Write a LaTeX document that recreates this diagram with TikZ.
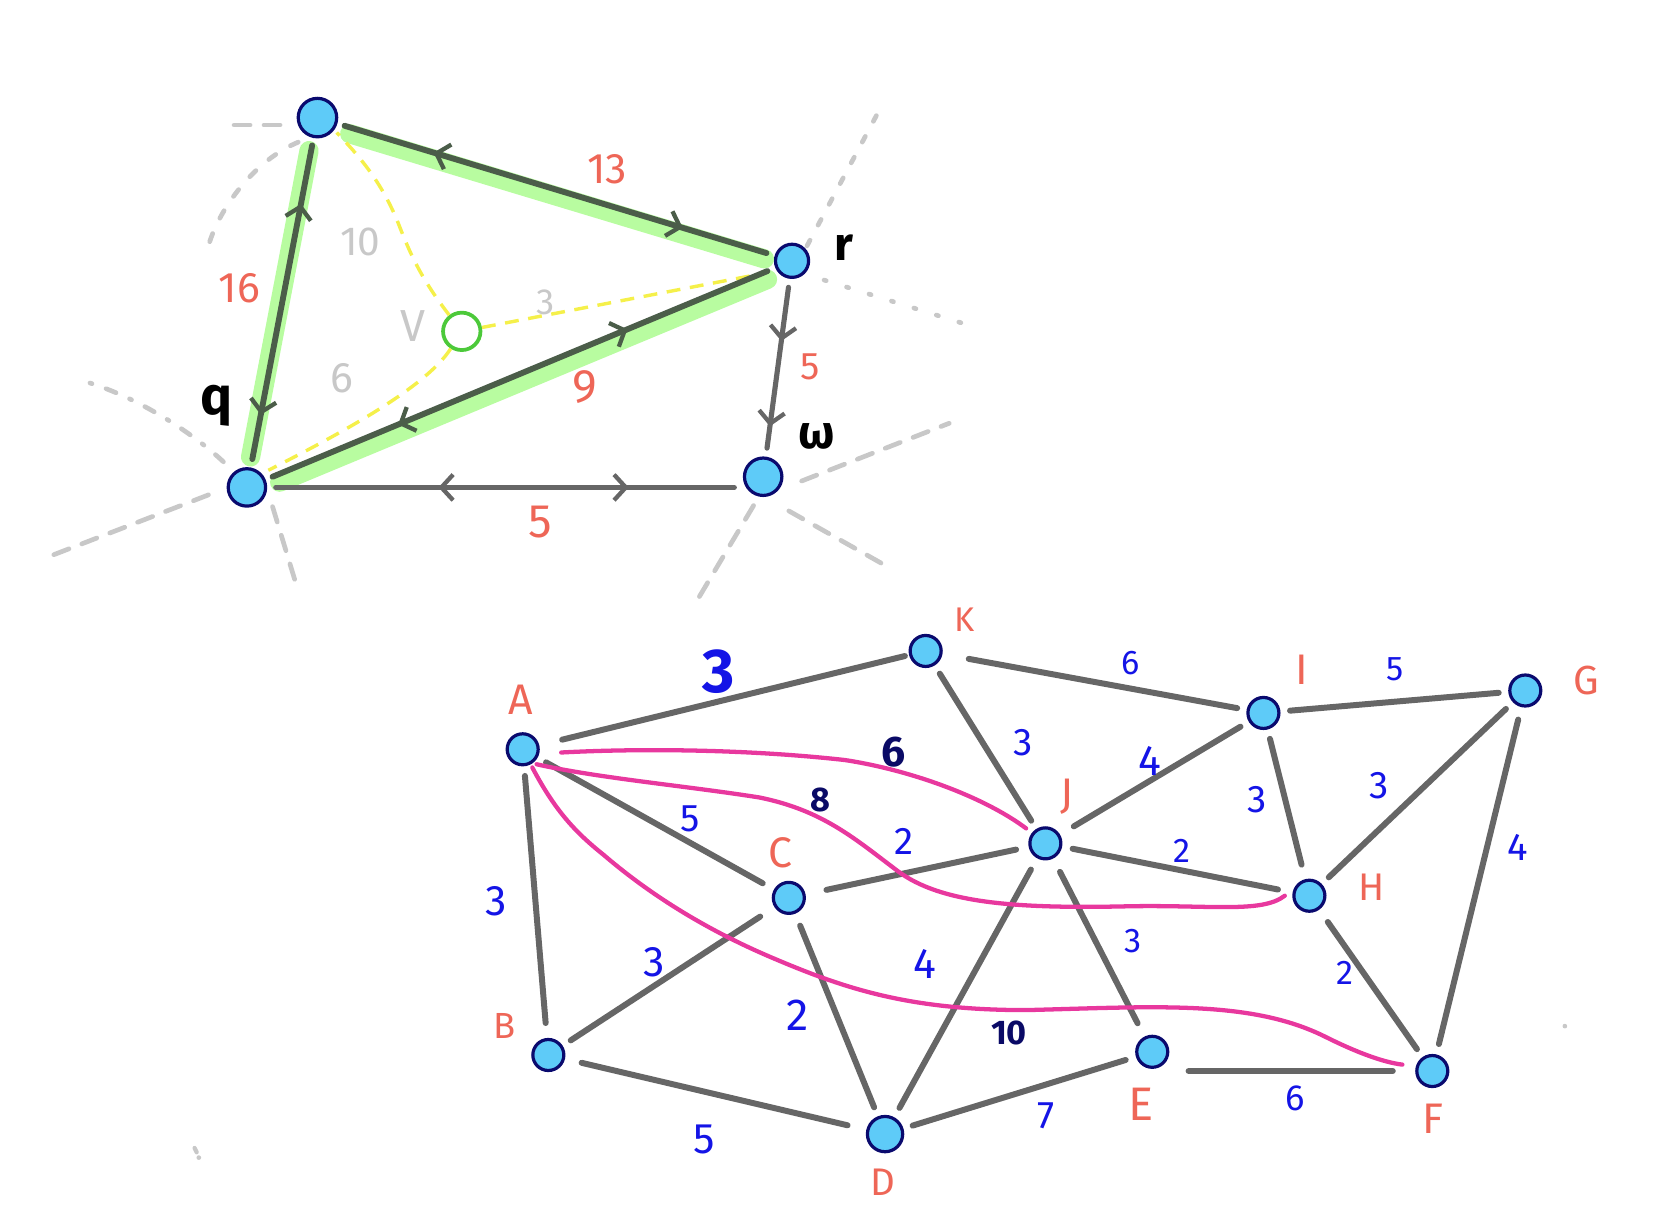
\documentclass[tikz,border=0pt]{standalone}
\usepackage{fontspec}
\setmainfont{Fira Sans}
\usetikzlibrary{arrows.meta,decorations.markings,calc}
\definecolor{nodefill}{HTML}{5ECBF8}
\definecolor{nodeline}{HTML}{0A0A6E}
\definecolor{edgegray}{HTML}{666666}
\definecolor{darkedge}{HTML}{4B5D49}
\definecolor{hlgreen}{HTML}{B8FCA0}
\definecolor{labred}{HTML}{EE6657}
\definecolor{labblue}{HTML}{1414E6}
\definecolor{labnavy}{HTML}{0A0A66}
\definecolor{pinkpath}{HTML}{E8389E}
\definecolor{ghost}{HTML}{C8C8C8}
\definecolor{yel}{HTML}{F5F04A}
\definecolor{vgreen}{HTML}{4CC93A}
\newcommand\fsz[1]{\fontsize{#1}{#1}\selectfont}
\begin{document}
\begin{tikzpicture}[x=1pt,y=-1pt,
  vert/.style={circle,draw=nodeline,fill=nodefill,line width=3pt,minimum size=#1,inner sep=0pt},
  vert/.default=29pt,
  topedge/.style={draw=darkedge,line width=5.5pt,line cap=round,shorten >=8pt,shorten <=7pt},
  grayedge/.style={draw=edgegray,line width=4.8pt,line cap=round,shorten >=8pt,shorten <=8pt},
  hl/.style={draw=hlgreen,line width=18pt,line cap=round,shorten >=10pt,shorten <=12pt},
  botedge/.style={draw=edgegray,line width=5.6pt,line cap=round,shorten >=9pt,shorten <=9pt},
  fwd/.style={postaction={decorate,decoration={markings,mark=at position #1 with {\arrow{Straight Barb[length=11pt,width=24pt,line width=4pt]}}}}},
  rev/.style={postaction={decorate,decoration={markings,mark=at position #1 with {\arrowreversed{Straight Barb[length=11pt,width=24pt,line width=4pt]}}}}},
  ydash/.style={draw=yel,line width=3.2pt,dash pattern=on 13pt off 9pt},
  gdash/.style={draw=ghost,line width=4.4pt,line cap=round,dash pattern=on 15pt off 13pt},
  gdot/.style={draw=ghost,line width=4.4pt,line cap=round,dash pattern=on 3pt off 17pt},
  pinkp/.style={draw=pinkpath,line width=4pt,line cap=round,line join=round},
  redlab/.style={text=labred,font=\fsz{40}},
  bluelab/.style={text=labblue,font=\fsz{36}},
  navylab/.style={text=labnavy,font=\fsz{36}},
  greylab/.style={text=ghost,font=\fsz{38}},
  blacklab/.style={text=black,font=\fsz{44}\bfseries}
]
\useasboundingbox (0,0) rectangle (1568,1149);

% ---------- top graph nodes ----------
\node[vert=36pt] (P) at (297,110) {};
\node[vert=31pt] (R) at (741,244) {};
\node[vert=35pt] (Q) at (231,456) {};
\node[vert=35pt] (W) at (714,446) {};
\node[circle,draw=vgreen,fill=white,line width=3.5pt,minimum size=35pt,inner sep=0pt] (V) at (432,310) {};

% ghost rays
\coordinate (g1) at (213,117);
\coordinate (g2) at (195,230);
\coordinate (g3) at (80,357);
\coordinate (g4) at (45,521);
\coordinate (g5) at (279,553);
\coordinate (g6) at (820,108);
\coordinate (g7) at (912,306);
\coordinate (g8) at (888,396);
\coordinate (g9) at (830,530);
\coordinate (g10) at (652,562);
\draw[gdash] ([shift={(-35,7)}]P.center) -- (g1);
\draw[gdot,dash pattern=on 8pt off 16pt] ([shift={(-18,23)}]P.center) .. controls (238,150) and (205,195) .. (g2);
\draw[gdot,dash pattern=on 10pt off 14pt on 2pt off 14pt] ([shift={(-22,-24)}]Q.center) .. controls (180,405) and (130,372) .. (g3);
\draw[gdash] ([shift={(-36,7)}]Q.center) -- (g4);
\draw[gdash] ([shift={(24,18)}]Q.center) -- (g5);
\draw[gdot,dash pattern=on 6pt off 16pt] ([shift={(14,-14)}]R.center) -- (g6);
\draw[gdot,dash pattern=on 2pt off 20pt] ([shift={(30,18)}]R.center) -- (g7);
\draw[gdash] ([shift={(36,4)}]W.center) -- (g8);
\draw[gdash] ([shift={(24,32)}]W.center) -- (g9);
\draw[gdash] ([shift={(-9,27)}]W.center) -- (g10);
\draw[draw=ghost,line width=4pt,line cap=round] (182,1074) -- (184,1078);
\fill[ghost] (186,1083) circle (2.2pt);
\fill[ghost] (1464,960) circle (2.2pt);

% highlights
\draw[hl,transform canvas={yshift=-6pt}] (P) -- (R);
\draw[hl,transform canvas={xshift=-2pt}] (P) -- (Q);
\draw[hl,transform canvas={yshift=-7pt,xshift=2pt}] (Q) -- (R);

% yellow dashed from V
\draw[ydash] (V) .. controls (395,262) and (385,240) .. (375,215) .. controls (360,175) and (340,150) .. ([shift={(18,14)}]P.center);
\draw[ydash] (V) -- ([shift={(-28,12)}]R.center);
\draw[ydash] (V) .. controls (400,360) and (330,400) .. ([shift={(20,-16)}]Q.center);

% top edges
\draw[topedge,rev=0.22,fwd=0.79] (P) -- (R);
\draw[topedge,rev=0.2,fwd=0.84] (P) -- (Q);
\draw[topedge,rev=0.26,fwd=0.71] (Q) -- (R);
\draw[grayedge,fwd=0.35,fwd=0.83] (R) -- (W);
\draw[grayedge,rev=0.36,fwd=0.76] (Q) -- (Q -| W.west);

% top labels
\node[redlab] at (568,158) {13};
\node[redlab] at (224,270) {16};
\node[redlab,font=\fsz{44}] at (547,362) {9};
\node[redlab,font=\fsz{36}] at (758,343) {5};
\node[redlab,font=\fsz{44}] at (505,488) {5};
\node[greylab] at (337,226) {10};
\node[greylab,font=\fsz{34}] at (510,283) {3};
\node[greylab,font=\fsz{42}] at (386,305) {V};
\node[greylab,font=\fsz{40}] at (320,354) {6};
\node[blacklab,font=\fsz{50}\bfseries] at (203,380) {q};
\node[blacklab] at (790,232) {r};
\node[blacklab] at (764,408) {ω};

% ---------- bottom graph ----------
\node[vert] (A) at (489,701) {};
\node[vert] (K) at (866,609) {};
\node[vert] (I) at (1182,667) {};
\node[vert] (G) at (1427,646) {};
\node[vert] (J) at (978,789) {};
\node[vert] (C) at (738,840) {};
\node[vert] (H) at (1225,838) {};
\node[vert] (B) at (513,987) {};
\node[vert=33pt] (D) at (828,1061) {};
\node[vert] (E) at (1078,984) {};
\node[vert] (F) at (1340,1002) {};

\draw[botedge,shorten <=22pt,shorten >=4pt] (A) -- (K);
\draw[botedge,shorten <=25pt] (K) -- (I);
\draw[botedge] (I) -- (G);
\draw[botedge] (K) -- (J);
\draw[botedge,shorten <=15pt] (J) -- (I);
\draw[botedge,shorten >=14pt] (I) -- (H);
\draw[botedge] (H) -- (G);
\draw[botedge,shorten <=12pt,shorten >=10pt] (G) -- (F);
\draw[botedge,shorten <=10pt,shorten >=14pt] (J) -- (H);
\draw[botedge,shorten <=20pt,shorten >=12pt] (C) -- (J);
\draw[botedge,shorten >=12pt] (A) -- (C);
\draw[botedge,shorten >=14pt] (A) -- (B);
\draw[botedge,shorten <=16pt] (C) -- (B);
\draw[botedge,shorten <=12pt] (C) -- (D);
\draw[botedge,shorten <=12pt,shorten >=10pt] (J) -- (D);
\draw[botedge,shorten <=14pt,shorten >=14pt] (J) -- (E);
\draw[botedge,shorten <=14pt] (H) -- (F);
\draw[botedge,shorten <=16pt,shorten >=18pt] (B) -- (D);
\draw[botedge,shorten >=10pt] (D) -- (E);
\draw[botedge,shorten <=18pt,shorten >=21pt] (E.east |- F) -- (F);

% pink paths
\draw[pinkp] ([shift={(36,3)}]A.center) .. controls (600,700) and (700,701) .. (790,711)
  .. controls (850,720) and (920,745) .. ([shift={(-18,-14)}]J.center);
\draw[pinkp] ([shift={(13,14)}]A.center) .. controls (560,728) and (640,735) .. (710,746)
  .. controls (770,758) and (800,785) .. (840,815)
  .. controls (880,845) and (950,850) .. (1050,848)
  .. controls (1130,846) and (1180,855) .. ([shift={(-23,0)}]H.center);
\draw[pinkp] ([shift={(9,17)}]A.center) .. controls (520,760) and (540,780) .. (565,800)
  .. controls (600,830) and (650,865) .. (720,895)
  .. controls (790,925) and (850,945) .. (960,945)
  .. controls (1080,942) and (1170,935) .. (1240,970)
  .. controls (1270,985) and (1295,994) .. ([shift={(-28,-6)}]F.center);

% vertex letters
\node[redlab] at (487,655) {A};
\node[redlab,font=\fsz{32}] at (902,580) {K};
\node[redlab] at (1218,627) {I};
\node[redlab,font=\fsz{38}] at (1484,637) {G};
\node[redlab] at (998,745) {J};
\node[redlab] at (730,798) {C};
\node[redlab,font=\fsz{36}] at (1283,830) {H};
\node[redlab,font=\fsz{34}] at (472,960) {B};
\node[redlab,font=\fsz{36}] at (826,1106) {D};
\node[redlab,font=\fsz{44}] at (1068,1033) {E};
\node[redlab] at (1341,1047) {F};

% weights
\node[bluelab,font=\fsz{58}\bfseries] at (672,628) {3};
\node[bluelab,font=\fsz{32}] at (1058,620) {6};
\node[bluelab,font=\fsz{32}] at (1305,626) {5};
\node[bluelab] at (957,695) {3};
\node[bluelab,font=\fsz{40}] at (1076,712) {4};
\node[bluelab] at (1176,748) {3};
\node[bluelab] at (1290,735) {3};
\node[bluelab] at (1420,793) {4};
\node[bluelab,font=\fsz{32}] at (1106,796) {2};
\node[bluelab] at (846,787) {2};
\node[bluelab] at (646,766) {5};
\node[bluelab,font=\fsz{40}] at (464,843) {3};
\node[bluelab,font=\fsz{40}] at (612,900) {3};
\node[bluelab,font=\fsz{42}] at (746,950) {2};
\node[bluelab,font=\fsz{40}] at (865,902) {4};
\node[bluelab,font=\fsz{32}] at (1060,880) {3};
\node[bluelab,font=\fsz{32}] at (1258,910) {2};
\node[bluelab,font=\fsz{40}] at (659,1066) {5};
\node[bluelab] at (979,1044) {7};
\node[bluelab,font=\fsz{34}] at (1212,1028) {6};
\node[navylab,font=\fsz{40}\bfseries] at (836,704) {6};
\node[navylab,font=\fsz{32}\bfseries] at (768,748) {8};
\node[navylab,font=\fsz{32}\bfseries] at (944,966) {10};
\end{tikzpicture}
\end{document}
